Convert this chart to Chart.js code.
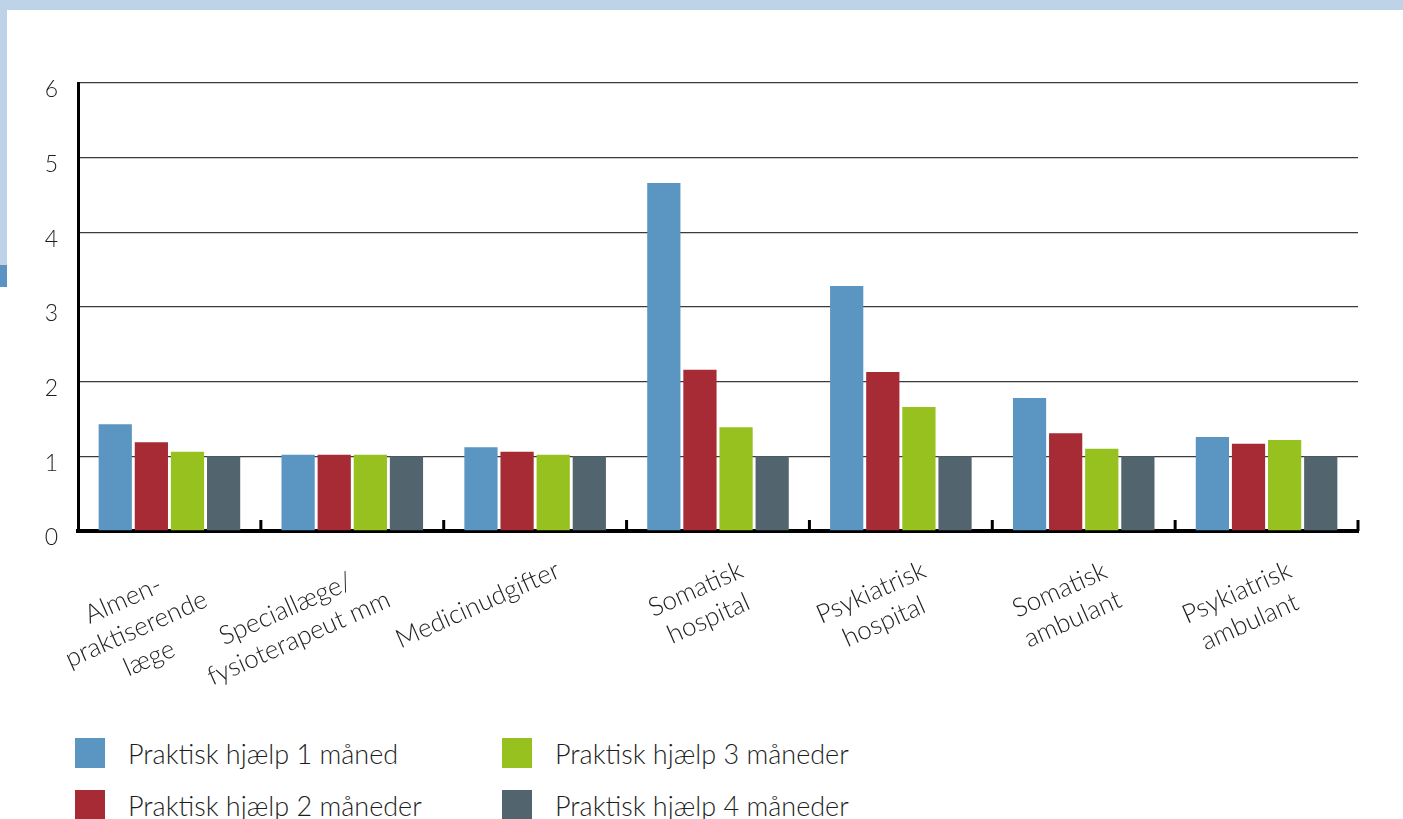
<!DOCTYPE html>
<html lang="da">
<head>
<meta charset="UTF-8">
<title>Praktisk hjælp</title>
<script src="https://cdn.jsdelivr.net/npm/chart.js"></script>
<style>
  body { margin: 0; width: 1403px; height: 819px; background: #fff; position: relative; overflow: hidden;
         font-family: Lato, "Open Sans", sans-serif; font-weight: 300; color: #1e1e1e; }
  .band-top { position: absolute; left: 0; top: 0; width: 1403px; height: 10px; background: #bfd3e8; }
  .band-left { position: absolute; left: 0; top: 0; width: 7px; height: 265px; background: #bfd3e8; }
  .band-mark { position: absolute; left: 0; top: 265px; width: 7px; height: 22px; background: #5b93c2; }
  #chart { position: absolute; left: 0; top: 0; }
  #legend { position: absolute; left: 75px; top: 738px; display: grid; grid-template-rows: 30px 30px;
            grid-auto-flow: column; grid-template-columns: 427px 400px; row-gap: 22px; }
  .item { display: flex; align-items: center; font-size: 27px; white-space: nowrap; }
  .sw { width: 30px; height: 30px; margin-right: 23px; flex: none; }
</style>
</head>
<body>
<div class="band-top"></div>
<div class="band-left"></div>
<div class="band-mark"></div>
<canvas id="chart" width="1403" height="720"></canvas>
<div id="legend"></div>

<script>
    const categories = [
        ['Almen-', 'praktiserende', 'læge'],
        ['Speciallæge/', 'fysioterapeut mm'],
        ['Medicinudgifter'],
        ['Somatisk', 'hospital'],
        ['Psykiatrisk', 'hospital'],
        ['Somatisk', 'ambulant'],
        ['Psykiatrisk', 'ambulant']
    ];
    const seriesNames = ['Praktisk hjælp 1 måned', 'Praktisk hjælp 2 måneder', 'Praktisk hjælp 3 måneder', 'Praktisk hjælp 4 måneder'];
    const month1 = [1.43, 1.02, 1.12, 4.66, 3.28, 1.78, 1.26];
    const month2 = [1.19, 1.02, 1.06, 2.16, 2.13, 1.31, 1.17];
    const month3 = [1.06, 1.02, 1.02, 1.39, 1.66, 1.10, 1.22];
    const month4 = [1.00, 1.00, 1.00, 1.00, 1.00, 1.00, 1.00];
    const colors = ['#5b95c2', '#a62b34', '#96c11f', '#52646e'];

    const fontFamily = 'Lato, "Open Sans", sans-serif';

    // category labels: rotated, lines centered, plus the short marks between groups
    const labelPlugin = {
        id: 'catLabels',
        afterDraw(chart) {
            const ctx = chart.ctx;
            const xs = chart.scales.x;
            const n = categories.length;
            const step = xs.width / n;
            ctx.save();
            ctx.strokeStyle = '#000';
            ctx.lineWidth = 3;
            for (let i = 1; i <= n; i++) {
                const bx = xs.left + i * step;
                ctx.beginPath();
                ctx.moveTo(bx, xs.top);
                ctx.lineTo(bx, xs.top - 11);
                ctx.stroke();
            }
            ctx.fillStyle = '#1e1e1e';
            ctx.font = '300 26px ' + fontFamily;
            ctx.textAlign = 'center';
            ctx.textBaseline = 'top';
            const lh = 32;
            categories.forEach((lines, i) => {
                const cx = xs.getPixelForValue(i);
                const maxW = Math.max(...lines.map(l => ctx.measureText(l).width));
                ctx.save();
                ctx.translate(cx + 18, xs.top + 26);
                ctx.rotate(-24 * Math.PI / 180);
                lines.forEach((l, j) => ctx.fillText(l, -maxW / 2, j * lh));
                ctx.restore();
            });
            ctx.restore();
        }
    };

    const chart = new Chart(document.getElementById('chart'), {
        type: 'bar',
        data: {
            labels: categories.map(c => c.join(' ')),
            datasets: [month1, month2, month3, month4].map((d, i) => ({
                label: seriesNames[i],
                data: d,
                backgroundColor: colors[i],
                borderWidth: 0,
                categoryPercentage: 0.79,
                barPercentage: 0.92
            }))
        },
        options: {
            responsive: false,
            animation: false,
            layout: { padding: { top: 83, right: 45, left: 0, bottom: 0 } },
            plugins: { legend: { display: false }, tooltip: { enabled: false } },
            scales: {
                x: {
                    z: 1,
                    ticks: { display: false },
                    grid: { display: false },
                    border: { color: '#000', width: 4 },
                    afterFit: s => { s.height = 189; }
                },
                y: {
                    min: 0,
                    max: 6,
                    ticks: {
                        stepSize: 1,
                        color: '#1e1e1e',
                        padding: 20,
                        labelOffset: 7,
                        font: { family: fontFamily, size: 23, weight: 300 }
                    },
                    grid: { color: '#3a3a3a', lineWidth: 1.3, drawTicks: false },
                    border: { color: '#000', width: 3 },
                    afterFit: s => { s.width = 78; }
                }
            }
        },
        plugins: [labelPlugin]
    });

    const legend = document.getElementById('legend');
    chart.data.datasets.forEach(ds => {
        const item = document.createElement('div');
        item.className = 'item';
        item.innerHTML = '<span class="sw" style="background:' + ds.backgroundColor + '"></span>' + ds.label;
        legend.appendChild(item);
    });
</script>
</body>
</html>
